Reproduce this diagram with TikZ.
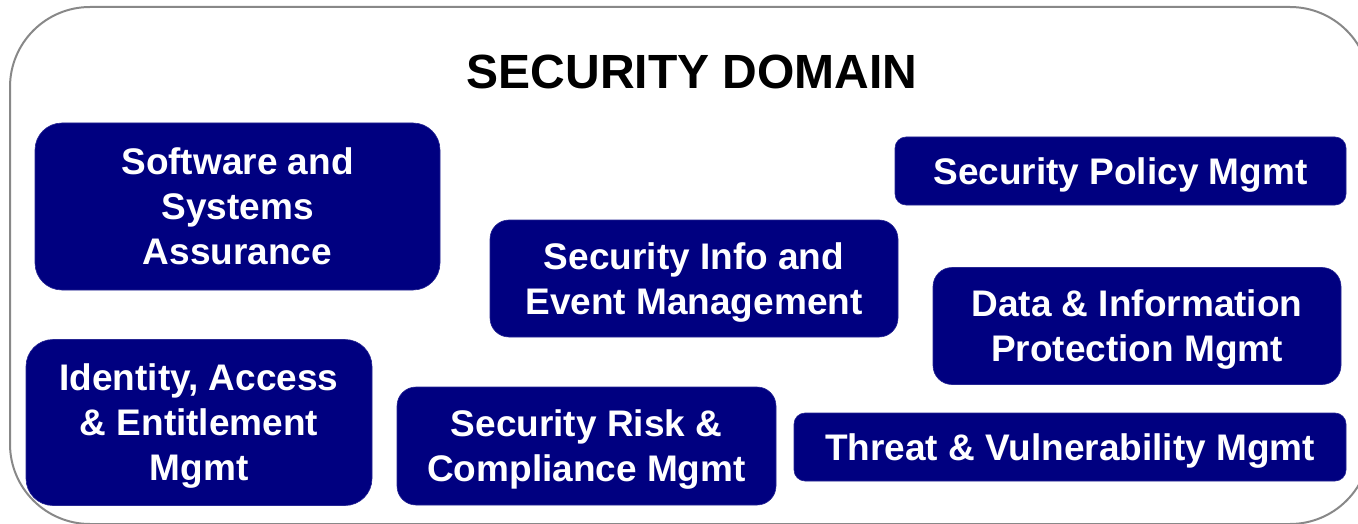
\documentclass[tikz,border=0pt]{standalone}
\usepackage{fontspec}
\setmainfont{Liberation Sans}
\definecolor{navyfill}{RGB}{0,0,128}
\definecolor{framegray}{RGB}{136,136,136}
\begin{document}
\begin{tikzpicture}[x=1pt,y=-1pt,
  box/.style={fill=navyfill, draw=navyfill!85!white, line width=0.6pt, text=white,
    font=\bfseries\fontsize{37}{45}\selectfont, align=center, inner sep=0pt, anchor=center, text depth=0pt},
  titlestyle/.style={font=\bfseries\fontsize{48}{56}\selectfont, text=black, inner sep=0pt}]
\useasboundingbox (0,0) rectangle (1358,524);
\clip (0,0) rectangle (1358,524);
\draw[framegray, line width=2pt, rounded corners=80pt] (10,7) rectangle (1370,524);

\node[titlestyle] (title) at (692,72) {SECURITY DOMAIN};

\node[box, minimum width=405pt, minimum height=167pt, rounded corners=27pt] (sw) at (237.5,206.5) {Software and\\Systems\\Assurance};
\node[box, minimum width=451pt, minimum height=68pt, rounded corners=11pt] (pol) at (1120.5,171) {Security Policy Mgmt};
\node[box, minimum width=408pt, minimum height=117pt, rounded corners=19pt] (siem) at (694,278.5) {Security Info and\\Event Management};
\node[box, minimum width=408pt, minimum height=117pt, rounded corners=19pt] (dat) at (1137,326) {Data \& Information\\Protection Mgmt};
\node[box, minimum width=346pt, minimum height=166pt, rounded corners=27pt] (iam) at (199,422.5) {Identity, Access\\\& Entitlement\\Mgmt};
\node[box, minimum width=379pt, minimum height=118pt, rounded corners=19pt] (risk) at (586.5,446) {Security Risk \&\\Compliance Mgmt};
\node[box, minimum width=552pt, minimum height=68pt, rounded corners=11pt] (thr) at (1070,447) {Threat \& Vulnerability Mgmt};
\end{tikzpicture}
\end{document}
